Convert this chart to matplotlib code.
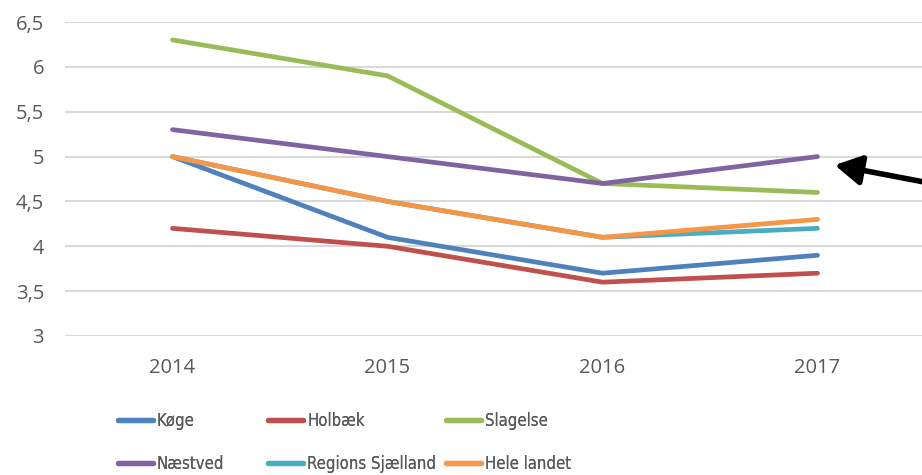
import matplotlib
matplotlib.use("Agg")
import matplotlib.pyplot as plt
from matplotlib.lines import Line2D
from matplotlib import font_manager

years = ["2014", "2015", "2016", "2017"]
series_names = ["Køge", "Holbæk", "Slagelse", "Næstved", "Regions Sjælland", "Hele landet"]
koege = [5.0, 4.1, 3.7, 3.9]
holbaek = [4.2, 4.0, 3.6, 3.7]
slagelse = [6.3, 5.9, 4.7, 4.6]
naestved = [5.3, 5.0, 4.7, 5.0]
region_sj = [5.0, 4.5, 4.1, 4.2]
hele_landet = [5.0, 4.5, 4.1, 4.3]
yticks = [3, 3.5, 4, 4.5, 5, 5.5, 6, 6.5]
ytick_labels = ["3", "3,5", "4", "4,5", "5", "5,5", "6", "6,5"]

colors = ["#4F81BD", "#C0504D", "#9BBB59", "#8064A2", "#4BACC6", "#F79646"]
values = [koege, holbaek, slagelse, naestved, region_sj, hele_landet]
draw_order = [1, 0, 2, 4, 5, 3]

names = {f.name for f in font_manager.fontManager.ttflist}
tick_font = "Open Sans" if "Open Sans" in names else "DejaVu Sans"

# pick the narrowest regular face available for the legend (reference legend text is narrow)
stretch_val = {"ultra-condensed": 100, "extra-condensed": 200, "condensed": 300,
               "semi-condensed": 400, "normal": 500}
best = None
for f in font_manager.fontManager.ttflist:
    st = str(f.stretch).lower()
    v = int(st) if st.isdigit() else stretch_val.get(st, 500)
    if "narrow" in f.name.lower() or "condensed" in f.name.lower():
        v = min(v, 300)
    if f.style != "normal" or f.weight not in (400, "normal", "regular"):
        continue
    if v < 500 and (best is None or v < best[0]):
        best = (v, f)
size = 12
if best is not None:
    leg_prop = font_manager.FontProperties(fname=best[1].fname, size=size)
else:
    leg_prop = font_manager.FontProperties(family="Lato", size=size)

fig = plt.figure(figsize=(9.22, 4.75), dpi=100)

renderer = fig.canvas.get_renderer()
probe = fig.text(0, 0, "Regions Sjælland", fontproperties=leg_prop)
w_reg = probe.get_window_extent(renderer).width
probe.remove()

ax = fig.add_axes([65 / 922, (475 - 336) / 475, 860 / 922, 314 / 475])

x = list(range(len(years)))
for i in draw_order:
    ax.plot(x, values[i], color=colors[i], lw=3.4, solid_capstyle="round",
            solid_joinstyle="round", zorder=3 + i * 0.01)

ax.set_xlim(-0.5, 3.5)
ax.set_ylim(3, 6.5)
ax.set_yticks(yticks)
ax.set_yticklabels(ytick_labels)
ax.set_xticks(x)
ax.set_xticklabels(years)
ax.grid(axis="y", color="#D9D9D9", lw=1.5, zorder=0)
ax.set_axisbelow(True)
for s in ax.spines.values():
    s.set_visible(False)
ax.tick_params(axis="both", length=0, labelcolor="#595959", labelsize=14.5)
ax.tick_params(axis="y", pad=15)
ax.tick_params(axis="x", pad=16)
for lab in ax.get_xticklabels() + ax.get_yticklabels():
    lab.set_fontfamily(tick_font)

ax.annotate("", xy=(3.08, 4.906), xytext=(3.62, 4.66), xycoords="data", textcoords="data",
            annotation_clip=False,
            arrowprops=dict(arrowstyle="-|>,head_length=0.8,head_width=0.45",
                            mutation_scale=20, lw=4.0, color="black",
                            shrinkA=0, shrinkB=0))

# legend entries, placed in a 3x2 grid
hl_px = 35.0
pad_px = 4.0
col1, col2 = 118, 268
col3 = max(417, col2 + hl_px + pad_px + w_reg + 10)
positions = [(col1, 421), (col2, 421), (col3, 421), (col1, 464), (col2, 464), (col3, 464)]
for i, (px, py) in enumerate(positions):
    h = Line2D([0], [0], color=colors[i], lw=3.8, solid_capstyle="round")
    leg = fig.legend(handles=[h], labels=[series_names[i]], loc="center left",
                     bbox_to_anchor=(px / 922, 1 - py / 475), frameon=False,
                     handlelength=hl_px * 0.72 / size,
                     handletextpad=pad_px * 0.72 / size, borderaxespad=0, borderpad=0,
                     prop=leg_prop)
    for t in leg.get_texts():
        t.set_color("#595959")
    fig.add_artist(leg)

fig.savefig("out.png", dpi=100)
